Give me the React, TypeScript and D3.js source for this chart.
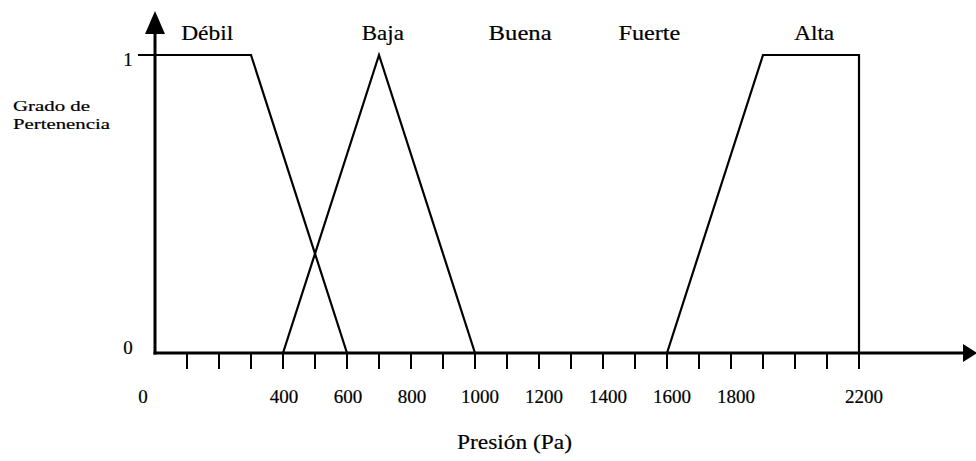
import React from "react";
import * as d3 from "d3";

// ---- data ----
const debilX = [0, 300, 600];
const debilY = [1, 1, 0];
const bajaX = [400, 700, 1000];
const bajaY = [0, 1, 0];
const altaX = [1600, 1900, 2200, 2200];
const altaY = [0, 1, 1, 0];

const setNames = ["Débil", "Baja", "Buena", "Fuerte", "Alta"];
const setLabelAt = [163, 712, 1141, 1545, 2060];

const minorTicks = d3.range(100, 2201, 100);
const tickLabels = [0, 400, 600, 800, 1000, 1200, 1400, 1600, 1800, 2200];
const yTickLabels = [0, 1];

const xTitle = "Presión (Pa)";
const yTitle = ["Grado de", "Pertenencia"];

const W = 976;
const H = 461;
const FONT = "Liberation Serif, Times New Roman, Times, serif";

export default function App() {
  const x = d3.scaleLinear().domain([0, 2200]).range([155, 859]);
  const y = d3.scaleLinear().domain([0, 1]).range([353, 55]);

  const line = d3
    .line<[number, number]>()
    .x((d) => x(d[0]))
    .y((d) => y(d[1]));

  const series: [number, number][][] = [
    debilX.map((v, i) => [v, debilY[i]] as [number, number]),
    bajaX.map((v, i) => [v, bajaY[i]] as [number, number]),
    altaX.map((v, i) => [v, altaY[i]] as [number, number]),
  ];

  const labelWidths: Record<string, number> = {
    "Débil": 52,
    Baja: 42,
    Buena: 63,
    Fuerte: 62,
    Alta: 40,
  };

  const x0 = x(0);
  const y0 = y(0);
  const xEnd = 977;
  const txt = { fontFamily: FONT, fill: "#000", stroke: "#000", strokeWidth: 0.2 } as React.CSSProperties;

  return (
    <svg
      width={W}
      height={H}
      style={{ position: "absolute", left: 0, top: 0, background: "#fff" }}
    >
      <rect x={0} y={0} width={W} height={H} fill="#fff" />

      {/* membership functions */}
      {series.map((s, i) => (
        <path
          key={i}
          d={line(s) || ""}
          fill="none"
          stroke="#000"
          strokeWidth={2.2}
          strokeLinejoin="miter"
        />
      ))}

      {/* x ticks */}
      {minorTicks.map((t) => (
        <line
          key={t}
          x1={x(t)}
          x2={x(t)}
          y1={y0}
          y2={y0 + 16}
          stroke="#000"
          strokeWidth={2}
        />
      ))}

      {/* axes */}
      <line x1={x0} x2={x0} y1={y0 + 1.5} y2={30} stroke="#000" strokeWidth={3} />
      <path d={`M${x0},11 L${x0 - 10},34 L${x0 + 10},34 Z`} fill="#000" />
      <line x1={x0 - 1.5} x2={xEnd - 12} y1={y0} y2={y0} stroke="#000" strokeWidth={3} />
      <path
        d={`M${xEnd},${y0} L${xEnd - 14},${y0 - 9} L${xEnd - 14},${y0 + 9} Z`}
        fill="#000"
      />

      {/* y tick "1" */}
      <line x1={x0 - 17} x2={x0} y1={y(1)} y2={y(1)} stroke="#000" strokeWidth={2} />

      {/* y tick labels */}
      {yTickLabels.map((v) => (
        <text
          key={v}
          x={128}
          y={y(v) + (v === 1 ? 11 : 1)}
          fontSize={19}
          textAnchor="middle"
          style={txt}
        >
          {v}
        </text>
      ))}

      {/* x tick labels */}
      {tickLabels.map((v) => (
        <text
          key={v}
          x={x(v) + (v === 0 ? -12 : v >= 1000 ? 5 : 1)}
          y={403}
          fontSize={19}
          textAnchor="middle"
          style={txt}
        >
          {v}
        </text>
      ))}

      {/* set names */}
      {setNames.map((n, i) => (
        <text
          key={n}
          x={x(setLabelAt[i]) - labelWidths[n] / 2}
          y={40}
          fontSize={21}
          textLength={labelWidths[n]}
          lengthAdjust="spacingAndGlyphs"
          style={txt}
        >
          {n}
        </text>
      ))}

      {/* y title */}
      <text x={13} y={111} fontSize={15} textLength={77} lengthAdjust="spacingAndGlyphs" style={txt}>
        {yTitle[0]}
      </text>
      <text x={13} y={129} fontSize={15} textLength={97} lengthAdjust="spacingAndGlyphs" style={txt}>
        {yTitle[1]}
      </text>

      {/* x title */}
      <text
        x={457}
        y={449}
        fontSize={21}
        textLength={115}
        lengthAdjust="spacingAndGlyphs"
        style={txt}
      >
        {xTitle}
      </text>
    </svg>
  );
}
